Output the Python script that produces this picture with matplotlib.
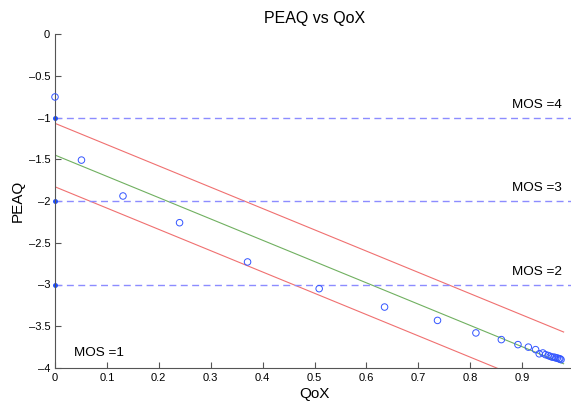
import matplotlib
matplotlib.use("Agg")
import matplotlib.pyplot as plt
import numpy as np

plt.rcParams['font.family'] = ['Liberation Sans', 'DejaVu Sans']

# Measured data
qox = [0.0, 0.051, 0.131, 0.240, 0.371, 0.509, 0.635, 0.737, 0.811, 0.860, 0.892,
       0.912, 0.926, 0.933, 0.940, 0.945, 0.950, 0.954, 0.958, 0.962, 0.965, 0.968,
       0.971, 0.973, 0.975]
peaq = [-0.754, -1.51, -1.94, -2.26, -2.73, -3.05, -3.27, -3.43, -3.58, -3.66, -3.72,
        -3.75, -3.78, -3.83, -3.82, -3.84, -3.85, -3.86, -3.87, -3.87, -3.88, -3.88,
        -3.89, -3.89, -3.90]

fit_intercept = -1.45
fit_slope = -2.55
fit_band = 0.38
fit_x_range = [0.0, 0.98]

mos_levels = [-1, -2, -3]
mos_labels = ["MOS =4", "MOS =3", "MOS =2"]
mos1_label = "MOS =1"

x_ticks = [0, 0.1, 0.2, 0.3, 0.4, 0.5, 0.6, 0.7, 0.8, 0.9]
y_ticks = [0, -0.5, -1, -1.5, -2, -2.5, -3, -3.5, -4]

fig = plt.figure(figsize=(5.71, 4.01), dpi=100)
ax = fig.add_axes([55/571, 33/401, 519/571, 334/401])

# fit lines
fx = np.array(fit_x_range)
fy = fit_intercept + fit_slope * fx
ax.plot(fx, fy, color='#70b060', lw=0.8)
ax.plot(fx, fy + fit_band, color='#f07070', lw=0.8)
ax.plot(fx, fy - fit_band, color='#f07070', lw=0.8)

# MOS thresholds
for lvl, lab in zip(mos_levels, mos_labels):
    ax.axhline(lvl, color='#8c8cff', ls=(0, (5, 3.2)), lw=1.0)
    ax.plot([0], [lvl], marker='.', color='#1a4cff', ms=5, clip_on=False)
    ax.text(0.977, lvl + 0.08, lab, ha='right', va='bottom', fontsize=9.7)
ax.text(0.037, -3.815, mos1_label, ha='left', va='center', fontsize=9.7)

# data
ax.scatter(qox, peaq, s=22, facecolors='none', edgecolors='#3355ff', linewidths=0.7,
           clip_on=False, zorder=3)

ax.set_xlim(0, 1.0)
ax.set_ylim(-4, 0)
ax.set_xticks(x_ticks)
ax.set_xticklabels([f"{t:g}" for t in x_ticks])
ax.set_yticks(y_ticks)
ax.set_yticklabels([f"{t:g}".replace('-', '\u2013') for t in y_ticks])
ax.tick_params(direction='in', labelsize=8, colors='#555555', labelcolor='black', length=4)
for s in ['top', 'right']:
    ax.spines[s].set_visible(False)
for s in ['left', 'bottom']:
    ax.spines[s].set_color('#555555')
    ax.spines[s].set_linewidth(0.8)

ax.set_title("PEAQ vs QoX", fontsize=11.5, pad=8)
ax.set_xlabel("QoX", fontsize=11, labelpad=3)
ax.set_ylabel("PEAQ", fontsize=11, labelpad=3)

fig.savefig("out.png", dpi=100)
